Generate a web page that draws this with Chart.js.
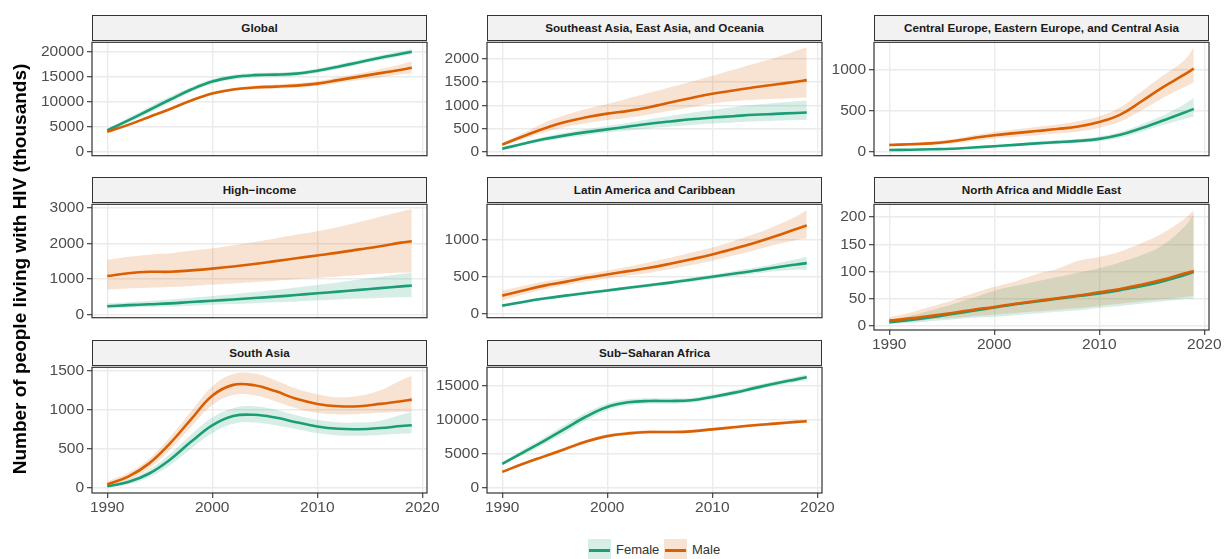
<!DOCTYPE html>
<html>
<head>
<meta charset="utf-8">
<title>People living with HIV by region and sex</title>
<script src="https://cdn.jsdelivr.net/npm/chart.js@4.4.1/dist/chart.umd.min.js"></script>
<style>
  html, body { margin: 0; padding: 0; background: #fff; }
  #page { position: relative; width: 1224px; height: 559px; overflow: hidden;
          font-family: "Liberation Sans", Arial, sans-serif; }
  #page canvas { position: absolute; }
  .strip { position: absolute; box-sizing: border-box; border: 1px solid #333; background: #f2f2f2;
           color: #1a1a1a; font-weight: bold; font-size: 11.7px; text-align: center; white-space: nowrap; }
  #ytitle { position: absolute; width: 520px; text-align: center; font-weight: bold; font-size: 19px;
            line-height: 22px; color: #000; transform: rotate(-90deg); white-space: nowrap; }
  .key { position: absolute; width: 23px; height: 23px; }
  .key span { position: absolute; left: 1px; right: 1px; top: 10px; height: 3px; }
  .lab { position: absolute; font-size: 13px; color: #333; line-height: 16px; }
</style>
</head>
<body>
<div id="page"></div>
<script>
// ---- data (thousands of people living with HIV) ----
const years = [1990, 1992, 1994, 1996, 1998, 2000, 2002, 2004, 2006, 2008, 2010, 2012, 2014, 2016, 2018, 2019];
const yearTicks = [1990, 2000, 2010, 2020];

const globalFemale   = [4200, 6200, 8300, 10400, 12400, 14000, 14900, 15300, 15400, 15600, 16200, 17000, 17900, 18800, 19600, 20000];
const globalFemaleLo = [4000, 5700, 7700, 9800, 11900, 13500, 14400, 14850, 14950, 15150, 15750, 16550, 17450, 18300, 19100, 19450];
const globalFemaleHi = [4400, 6700, 8900, 11000, 12900, 14500, 15400, 15750, 15850, 16050, 16650, 17450, 18350, 19300, 20100, 20550];
const globalMale     = [3900, 5300, 6900, 8500, 10200, 11600, 12400, 12800, 13000, 13200, 13600, 14300, 15000, 15700, 16400, 16800];
const globalMaleLo   = [3750, 5100, 6650, 8250, 9950, 11300, 12100, 12450, 12600, 12750, 13100, 13700, 14300, 14900, 15500, 15700];
const globalMaleHi   = [4050, 5500, 7150, 8750, 10450, 11900, 12700, 13150, 13400, 13650, 14100, 14900, 15700, 16500, 17500, 18100];
const globalTicks    = [0, 5000, 10000, 15000, 20000];

const seaFemale   = [60, 170, 270, 350, 420, 480, 540, 600, 650, 700, 735, 765, 795, 815, 835, 845];
const seaFemaleLo = [45, 140, 225, 295, 355, 410, 455, 500, 540, 575, 605, 630, 650, 665, 680, 684];
const seaFemaleHi = [75, 200, 315, 405, 485, 555, 625, 700, 770, 840, 900, 960, 1010, 1050, 1090, 1100];
const seaMale     = [150, 330, 500, 640, 740, 820, 880, 960, 1060, 1160, 1250, 1320, 1390, 1450, 1510, 1545];
const seaMaleLo   = [120, 270, 410, 530, 610, 680, 730, 800, 880, 960, 1040, 1090, 1120, 1140, 1160, 1163];
const seaMaleHi   = [180, 400, 620, 790, 920, 1030, 1150, 1270, 1390, 1510, 1640, 1770, 1900, 2030, 2180, 2255];
const seaTicks    = [0, 500, 1000, 1500, 2000];

const ceeFemale   = [20, 22, 28, 35, 50, 65, 82, 100, 115, 130, 155, 205, 285, 375, 470, 520];
const ceeFemaleLo = [12, 14, 19, 25, 38, 50, 65, 80, 93, 106, 128, 170, 240, 320, 395, 424];
const ceeFemaleHi = [28, 30, 37, 45, 62, 80, 100, 120, 137, 155, 185, 240, 330, 435, 570, 655];
const ceeMale     = [80, 90, 100, 125, 165, 200, 225, 250, 275, 305, 360, 450, 610, 780, 930, 1010];
const ceeMaleLo   = [65, 72, 80, 98, 130, 160, 180, 200, 220, 245, 290, 365, 500, 650, 780, 842];
const ceeMaleHi   = [95, 108, 122, 152, 200, 240, 270, 300, 330, 370, 430, 540, 730, 920, 1100, 1266];
const ceeTicks    = [0, 500, 1000];

const hiFemale   = [230, 260, 285, 310, 350, 385, 420, 460, 500, 545, 595, 640, 690, 740, 790, 810];
const hiFemaleLo = [170, 190, 205, 220, 245, 270, 290, 315, 340, 365, 395, 420, 445, 465, 480, 486];
const hiFemaleHi = [310, 345, 380, 420, 470, 520, 570, 630, 690, 760, 830, 900, 980, 1060, 1140, 1165];
const hiMale     = [1080, 1160, 1200, 1200, 1240, 1290, 1350, 1420, 1500, 1580, 1660, 1740, 1830, 1920, 2020, 2060];
const hiMaleLo   = [700, 730, 750, 770, 800, 840, 870, 910, 950, 990, 1030, 1070, 1110, 1150, 1180, 1182];
const hiMaleHi   = [1530, 1620, 1680, 1720, 1790, 1860, 1950, 2040, 2140, 2240, 2340, 2460, 2600, 2750, 2900, 2960];
const hiTicks    = [0, 1000, 2000, 3000];

const latFemale   = [115, 165, 210, 250, 285, 320, 355, 390, 425, 465, 505, 545, 585, 630, 670, 688];
const latFemaleLo = [95, 145, 190, 230, 265, 300, 333, 366, 400, 437, 475, 510, 545, 578, 600, 598];
const latFemaleHi = [135, 185, 230, 270, 305, 340, 377, 414, 450, 493, 535, 580, 625, 680, 740, 775];
const latMale     = [250, 320, 385, 435, 490, 535, 580, 625, 680, 740, 805, 880, 960, 1050, 1150, 1195];
const latMaleLo   = [185, 265, 335, 390, 440, 480, 520, 560, 610, 660, 720, 790, 860, 935, 1000, 1024];
const latMaleHi   = [320, 380, 440, 485, 540, 590, 640, 700, 760, 830, 900, 985, 1080, 1190, 1320, 1406];
const latTicks    = [0, 500, 1000];

const nameFemale   = [7, 11, 16, 22, 28, 34, 40, 45, 50, 55, 60, 66, 73, 82, 93, 99];
const nameFemaleLo = [4, 6, 9, 12, 15, 17, 20, 23, 26, 29, 33, 37, 41, 45, 49, 50];
const nameFemaleHi = [11, 19, 29, 40, 52, 65, 74, 82, 90, 98, 106, 117, 130, 148, 180, 204];
const nameMale     = [10, 14, 19, 24, 30, 35, 41, 46, 51, 56, 62, 68, 76, 85, 96, 101];
const nameMaleLo   = [6, 8, 12, 15, 18, 21, 24, 27, 30, 33, 37, 41, 45, 49, 53, 55];
const nameMaleHi   = [16, 25, 36, 47, 60, 72, 82, 95, 105, 120, 127, 137, 152, 170, 195, 212];
const nameTicks    = [0, 50, 100, 150, 200];

const saFemale   = [15, 70, 180, 360, 590, 800, 920, 935, 900, 840, 785, 755, 750, 765, 790, 800];
const saFemaleLo = [5, 40, 130, 290, 500, 700, 820, 835, 800, 750, 700, 670, 665, 675, 690, 698];
const saFemaleHi = [25, 100, 230, 430, 680, 900, 1020, 1045, 1000, 930, 870, 840, 835, 860, 935, 970];
const saMale     = [40, 140, 310, 570, 880, 1180, 1320, 1315, 1240, 1140, 1075, 1045, 1045, 1075, 1110, 1130];
const saMaleLo   = [10, 95, 250, 490, 780, 1060, 1190, 1185, 1110, 1020, 960, 940, 945, 960, 975, 970];
const saMaleHi   = [80, 190, 370, 650, 980, 1300, 1460, 1465, 1380, 1270, 1200, 1160, 1180, 1250, 1380, 1437];
const saTicks    = [0, 500, 1000, 1500];

const ssaFemale   = [3500, 5200, 6900, 8700, 10500, 11900, 12600, 12800, 12800, 12900, 13400, 14000, 14700, 15400, 16000, 16300];
const ssaFemaleLo = [3300, 4800, 6400, 8100, 9900, 11400, 12150, 12400, 12400, 12550, 13050, 13650, 14350, 15050, 15600, 15850];
const ssaFemaleHi = [3700, 5600, 7400, 9300, 11100, 12400, 13050, 13200, 13200, 13250, 13750, 14350, 15050, 15750, 16400, 16750];
const ssaMale     = [2300, 3500, 4600, 5700, 6800, 7600, 8000, 8200, 8200, 8300, 8600, 8900, 9200, 9450, 9700, 9800];
const ssaMaleLo   = [2150, 3300, 4350, 5450, 6550, 7350, 7750, 7950, 7980, 8080, 8380, 8680, 8980, 9230, 9470, 9560];
const ssaMaleHi   = [2450, 3700, 4850, 5950, 7050, 7850, 8250, 8450, 8420, 8520, 8820, 9120, 9420, 9670, 9930, 10040];
const ssaTicks    = [0, 5000, 10000, 15000];

// ---- look ----
const FEMALE = '#1b9e77', MALE = '#d95f02';
const FEMALE_BAND = 'rgba(27,158,119,0.18)', MALE_BAND = 'rgba(217,95,2,0.18)';
const GRID = '#ebebeb', AXIS = '#333333', TICK_TEXT = '#4d4d4d';
const FONT = '"Liberation Sans", Arial, sans-serif';
const TENSION = 0.4;

// facet grid geometry
const COL_LEFT = [92, 487, 874];
const ROW_TOP = [40, 202, 365];
const PANEL_W = 335, PANEL_H = 128, STRIP_H = 26;
const AXIS_W = 70, PAD_T = 10, PAD_R = 24, XAXIS_H = 26;
const X_MIN = 1988.55, X_MAX = 2020.45;

const panels = [
  { title: 'Global', row: 0, col: 0, yMin: -893, yMax: 21900, ticks: globalTicks,
    f: globalFemale, fLo: globalFemaleLo, fHi: globalFemaleHi, m: globalMale, mLo: globalMaleLo, mHi: globalMaleHi },
  { title: 'Southeast Asia, East Asia, and Oceania', row: 0, col: 1, yMin: -90, yMax: 2363, ticks: seaTicks,
    f: seaFemale, fLo: seaFemaleLo, fHi: seaFemaleHi, m: seaMale, mLo: seaMaleLo, mHi: seaMaleHi },
  { title: 'Central Europe, Eastern Europe, and Central Asia', row: 0, col: 2, yMin: -50, yMax: 1331, ticks: ceeTicks,
    f: ceeFemale, fLo: ceeFemaleLo, fHi: ceeFemaleHi, m: ceeMale, mLo: ceeMaleLo, mHi: ceeMaleHi },
  { title: 'High\u2212income', row: 1, col: 0, yMin: -93, yMax: 3100, ticks: hiTicks,
    f: hiFemale, fLo: hiFemaleLo, fHi: hiFemaleHi, m: hiMale, mLo: hiMaleLo, mHi: hiMaleHi },
  { title: 'Latin America and Caribbean', row: 1, col: 1, yMin: -48, yMax: 1482, ticks: latTicks,
    f: latFemale, fLo: latFemaleLo, fHi: latFemaleHi, m: latMale, mLo: latMaleLo, mHi: latMaleHi },
  { title: 'North Africa and Middle East', row: 1, col: 2, yMin: -7.3, yMax: 223.6, ticks: nameTicks, showX: true,
    f: nameFemale, fLo: nameFemaleLo, fHi: nameFemaleHi, m: nameMale, mLo: nameMaleLo, mHi: nameMaleHi },
  { title: 'South Asia', row: 2, col: 0, yMin: -71, yMax: 1546, ticks: saTicks, showX: true,
    f: saFemale, fLo: saFemaleLo, fHi: saFemaleHi, m: saMale, mLo: saMaleLo, mHi: saMaleHi },
  { title: 'Sub\u2212Saharan Africa', row: 2, col: 1, yMin: -822, yMax: 17784, ticks: ssaTicks, showX: true,
    f: ssaFemale, fLo: ssaFemaleLo, fHi: ssaFemaleHi, m: ssaMale, mLo: ssaMaleLo, mHi: ssaMaleHi }
];

const page = document.getElementById('page');

// dark frame around each panel, drawn over the data
const panelBorder = {
  id: 'panelBorder',
  afterDraw(chart) {
    const a = chart.chartArea, ctx = chart.ctx;
    ctx.save();
    ctx.strokeStyle = AXIS;
    ctx.lineWidth = 1.2;
    ctx.strokeRect(a.left, a.top, a.right - a.left, a.bottom - a.top);
    ctx.restore();
  }
};

const toPoints = arr => years.map((x, i) => ({ x, y: arr[i] }));

function bandEdge(values, order) {
  return { data: toPoints(values), showLine: false, borderWidth: 0, borderColor: 'transparent',
           pointRadius: 0, fill: false, tension: TENSION, order };
}
function bandTop(values, colour, order) {
  return { data: toPoints(values), showLine: false, borderWidth: 0, borderColor: 'transparent',
           pointRadius: 0, fill: '-1', backgroundColor: colour, tension: TENSION, order };
}
function meanLine(values, colour, order) {
  return { data: toPoints(values), borderColor: colour, borderWidth: 2.6, pointRadius: 0, fill: false,
           tension: TENSION, borderCapStyle: 'butt', order };
}

function makePanel(p) {
  const left = COL_LEFT[p.col], top = ROW_TOP[p.row];
  const xh = p.showX ? XAXIS_H : 0;

  const strip = document.createElement('div');
  strip.className = 'strip';
  strip.style.left = left + 'px';
  strip.style.top = (top - STRIP_H + 1) + 'px';
  strip.style.width = PANEL_W + 'px';
  strip.style.height = STRIP_H + 'px';
  strip.style.lineHeight = (STRIP_H - 2) + 'px';
  strip.textContent = p.title;

  const canvas = document.createElement('canvas');
  canvas.width = AXIS_W + PANEL_W + PAD_R;
  canvas.height = PAD_T + PANEL_H + xh;
  canvas.style.left = (left - AXIS_W) + 'px';
  canvas.style.top = (top - PAD_T) + 'px';
  page.appendChild(canvas);
  page.appendChild(strip);

  const tickFont = { family: FONT, size: 15.5 };

  new Chart(canvas, {
    type: 'line',
    data: {
      datasets: [
        bandEdge(p.fLo, 6),
        bandTop(p.fHi, FEMALE_BAND, 5),
        bandEdge(p.mLo, 4),
        bandTop(p.mHi, MALE_BAND, 3),
        meanLine(p.f, FEMALE, 2),
        meanLine(p.m, MALE, 1)
      ]
    },
    options: {
      responsive: false,
      animation: false,
      events: [],
      layout: { autoPadding: false, padding: { top: PAD_T, right: PAD_R, bottom: 0, left: 0 } },
      plugins: { legend: { display: false }, tooltip: { enabled: false }, title: { display: false } },
      scales: {
        x: {
          type: 'linear', min: X_MIN, max: X_MAX,
          afterBuildTicks: s => { s.ticks = yearTicks.map(v => ({ value: v })); },
          afterFit: s => { s.height = xh; },
          border: { display: false },
          grid: { color: GRID, lineWidth: 1.4, drawTicks: !!p.showX, tickLength: 5, tickColor: AXIS, tickWidth: 1.1 },
          ticks: { display: !!p.showX, autoSkip: false, maxRotation: 0, padding: 0, color: TICK_TEXT,
                   font: tickFont, callback: v => String(v) }
        },
        y: {
          type: 'linear', min: p.yMin, max: p.yMax,
          afterBuildTicks: s => { s.ticks = p.ticks.map(v => ({ value: v })); },
          afterFit: s => { s.width = AXIS_W; },
          border: { display: false },
          grid: { color: GRID, lineWidth: 1.4, drawTicks: true, tickLength: 5, tickColor: AXIS, tickWidth: 1.1 },
          ticks: { autoSkip: false, padding: 3, color: TICK_TEXT, font: tickFont, callback: v => String(v) }
        }
      }
    },
    plugins: [panelBorder]
  });
}

panels.forEach(makePanel);

// shared y-axis title
const yt = document.createElement('div');
yt.id = 'ytitle';
yt.textContent = 'Number of people living with HIV (thousands)';
yt.style.left = (20 - 260) + 'px';
yt.style.top = (269 - 11) + 'px';
page.appendChild(yt);

// legend
const legendItems = [
  { label: 'Female', line: FEMALE, band: FEMALE_BAND, x: 588 },
  { label: 'Male', line: MALE, band: MALE_BAND, x: 664 }
];
legendItems.forEach(it => {
  const key = document.createElement('div');
  key.className = 'key';
  key.style.left = it.x + 'px';
  key.style.top = '539px';
  key.style.background = it.band;
  const ln = document.createElement('span');
  ln.style.background = it.line;
  key.appendChild(ln);
  page.appendChild(key);
  const lab = document.createElement('div');
  lab.className = 'lab';
  lab.style.left = (it.x + 28) + 'px';
  lab.style.top = '542px';
  lab.textContent = it.label;
  page.appendChild(lab);
});
</script>
</body>
</html>
